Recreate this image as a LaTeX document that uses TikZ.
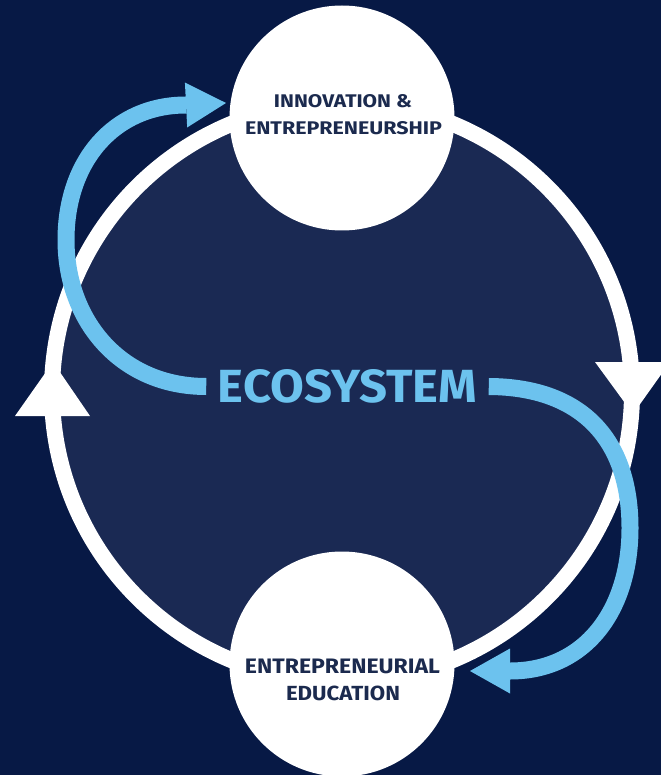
\documentclass[tikz,border=0pt]{standalone}
\usepackage{fontspec}
\setmainfont{Fira Sans}
\usetikzlibrary{arrows.meta}
\definecolor{bg}{HTML}{071945}
\definecolor{inner}{HTML}{1A2953}
\definecolor{sky}{HTML}{6CC2EE}
\definecolor{ink}{HTML}{1B2A4E}
\begin{document}
\begin{tikzpicture}[x=1pt,y=-1pt,
  ringline/.style={draw=white,line width=16pt,fill=inner},
  ringtip/.style={fill=white},
  bubble/.style={circle,fill=white,minimum size=225pt,inner sep=0pt},
  flow/.style={draw=sky,line width=17pt,-{Triangle[length=40pt,width=45pt,line width=0pt]}},
  lbl/.style={text=ink,font=\bfseries,anchor=base,inner sep=0pt},
  ecostyle/.style={text=sky,font=\bfseries,inner xsep=11.5pt,inner ysep=0pt}]
\useasboundingbox (0,0) rectangle (661,775);
\clip (0,0) rectangle (661,775);
\fill[bg] (0,0) rectangle (661,775);
% big ring
\draw[ringline] (342,392) circle[radius=290pt];
\fill[ringtip] (53,362) -- (90,416) -- (15,416) -- cycle;
\fill[ringtip] (595,362) -- (670,362) -- (633,414) -- cycle;
% centre label
\node[ecostyle] (eco) at (347.5,386.5) {\resizebox{259pt}{33pt}{ECOSYSTEM}};
\coordinate (tipA) at (226,103);
\coordinate (tipB) at (470,671);
% blue flows
\draw[flow] (eco.west) .. controls (120,386.5) and (66,320) .. (66,240)
  .. controls (66,160) and (115,105) .. (186,105) -- (tipA);
\draw[flow] (eco.east) .. controls (582,387) and (630,440) .. (630,528)
  .. controls (630,612) and (584,671) .. (510,671) -- (tipB);
% bubbles
\node[bubble] (inno) at (342,118) {};
\node[bubble] (edu) at (342,664) {};
\node[lbl] (inno1) at (343,108) {\resizebox{138pt}{13pt}{INNOVATION \&}};
\node[lbl] (inno2) at (343.5,135) {\resizebox{197pt}{13pt}{ENTREPRENEURSHIP}};
\node[lbl] (edu1) at (342.5,673) {\resizebox{195pt}{14.5pt}{ENTREPRENEURIAL}};
\node[lbl] (edu2) at (343,700) {\resizebox{114pt}{14.5pt}{EDUCATION}};
\end{tikzpicture}
\end{document}
